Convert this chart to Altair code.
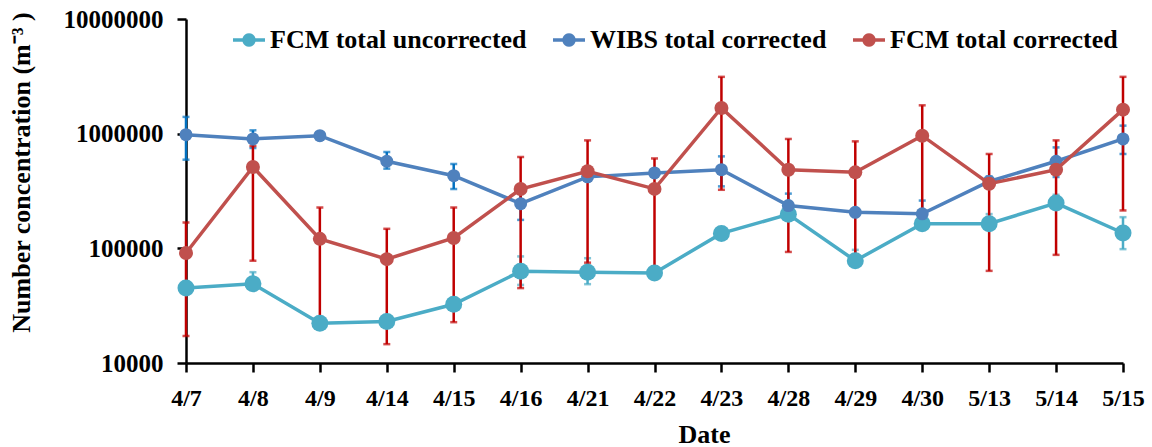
import math
import altair as alt
import pandas as pd

# ---------------- data ----------------
dates = ["4/7", "4/8", "4/9", "4/14", "4/15", "4/16", "4/21", "4/22",
         "4/23", "4/28", "4/29", "4/30", "5/13", "5/14", "5/15"]

series_names = ["FCM total uncorrected", "WIBS total corrected", "FCM total corrected"]

fcm_unc = [45000, 49000, 22200, 23000, 32500, 63000, 62000, 61000,
           135000, 198000, 78000, 164000, 164000, 248000, 136000]
wibs = [980000, 900000, 960000, 575000, 430000, 245000, 420000, 455000,
        485000, 236000, 206000, 200000, 383000, 575000, 900000]
fcm_cor = [91000, 512000, 121000, 80500, 123000, 329000, 470000, 330000,
           1675000, 485000, 460000, 960000, 366000, 485000, 1620000]

fcm_unc_lo = [None, 44000, None, None, None, 48000, 48700, None,
              None, None, 70000, None, 150000, 230000, 98400]
fcm_unc_hi = [None, 62000, None, None, None, 85000, 82000, None,
              None, None, 97000, None, 199000, 293000, 187000]
wibs_lo = [593000, 750000, None, 495000, 329000, 177000, None, None,
           347000, 190000, None, 165000, 340000, 419000, 665000]
wibs_hi = [1400000, 1069000, None, 692000, 544000, 320000, None, None,
           634000, 300000, None, 261000, 424000, 759000, 1175000]
fcm_cor_lo = [17200, 78000, 25000, 14600, 22700, 45000, 75000, 65000,
              324000, 93000, 80000, 210000, 63600, 87700, 214000]
fcm_cor_hi = [168000, 780000, 227000, 148000, 227000, 626000, 874000, 608000,
              3130000, 899000, 857000, 1767000, 665000, 874000, 3130000]

y_ticks = [10000, 100000, 1000000, 10000000]

# ---------------- styles ----------------
line_colors = ["#4BACC6", "#4F81BD", "#C0504D"]
err_colors = ["#4BACC6", "#0070C0", "#C00000"]
marker_sizes = [289, 169, 196]
FONT = "Liberation Serif"

values_by_series = [fcm_unc, wibs, fcm_cor]
err_by_series = [(fcm_unc_lo, fcm_unc_hi), (wibs_lo, wibs_hi), (fcm_cor_lo, fcm_cor_hi)]


def circle_path(r, n=20):
    pts = [(r * math.cos(2 * math.pi * k / n), r * math.sin(2 * math.pi * k / n)) for k in range(n)]
    return "M" + "L".join(f"{x:.3f},{y:.3f}" for x, y in pts) + "Z"


legend_symbol = "M-1,0L1,0" + circle_path(0.31) + circle_path(0.2) + circle_path(0.09)

x_axis = alt.Axis(
    labelAngle=0, grid=False, domainColor="black", domainWidth=2.5,
    tickColor="black", tickWidth=2.5, tickSize=9,
    labelFont=FONT, labelFontSize=24, labelFontWeight="bold", labelColor="black",
    labelPadding=14,
    titleFont=FONT, titleFontSize=26, titleFontWeight="bold", titleColor="black",
    titleX=518, titleY=79, titleBaseline="alphabetic",
)
y_axis = alt.Axis(
    values=y_ticks, format="d", grid=False, domainColor="black", domainWidth=2.5,
    tickColor="black", tickWidth=2.5, tickSize=9,
    labelFont=FONT, labelFontSize=25, labelFontWeight="bold", labelColor="black",
    labelPadding=14,
    titleFont=FONT, titleFontSize=26, titleFontWeight="bold", titleColor="black",
    titleX=-165, titleY=153, titleBaseline="middle", titleAngle=270,
)

X_TITLE = "Date"
Y_TITLE = "Number concentration (m\u207b\u00b3 )"


def xenc():
    return alt.X("date:N", sort=dates, scale=alt.Scale(type="point", padding=0),
                 axis=x_axis, title=X_TITLE)


yscale = alt.Scale(type="log", domain=[10000, 10000000], nice=False)
color_scale = alt.Scale(domain=series_names, range=line_colors)

layers = []

# error bars (behind everything)
for i, name in enumerate(series_names):
    lo, hi = err_by_series[i]
    edf = pd.DataFrame({"date": dates, "lo": lo, "hi": hi}).dropna()
    eb = alt.Chart(edf)
    layers.append(eb.mark_rule(color=err_colors[i], strokeWidth=2.5).encode(
        x=xenc(),
        y=alt.Y("lo:Q", scale=yscale, axis=y_axis, title=Y_TITLE),
        y2="hi:Q"))
    for fld in ["lo", "hi"]:
        layers.append(eb.mark_tick(color=err_colors[i], size=7, thickness=2.5).encode(
            x=xenc(),
            y=alt.Y(f"{fld}:Q", scale=yscale, axis=y_axis, title=Y_TITLE)))

# lines and markers
for i, name in enumerate(series_names):
    df = pd.DataFrame({"date": dates, "value": values_by_series[i], "series": name})
    base = alt.Chart(df)
    if i == 0:
        legend = alt.Legend(
            title=None, orient="none", legendX=45, legendY=3, direction="horizontal",
            symbolType=legend_symbol, symbolSize=1024, symbolStrokeWidth=3.5,
            labelFont=FONT, labelFontSize=26, labelFontWeight="bold", labelColor="black",
            labelLimit=0, columnPadding=19, labelOffset=3, padding=0, symbolOffset=0,
        )
    else:
        legend = None
    layers.append(base.mark_line(strokeWidth=3.5).encode(
        x=xenc(),
        y=alt.Y("value:Q", scale=yscale, axis=y_axis, title=Y_TITLE),
        color=alt.Color("series:N", scale=color_scale, legend=legend)))
    layers.append(base.mark_point(filled=True, opacity=1, size=marker_sizes[i],
                                  shape="circle").encode(
        x=xenc(),
        y=alt.Y("value:Q", scale=yscale, axis=y_axis, title=Y_TITLE),
        color=alt.Color("series:N", scale=color_scale, legend=None)))

chart = alt.layer(*layers).properties(
    width=937, height=344,
    padding={"left": 186, "top": 19, "right": 29, "bottom": 84},
    autosize="none",
    background="white",
).configure_view(stroke=None)

chart.save("out.html", embed_options={"renderer": "svg", "actions": False})
